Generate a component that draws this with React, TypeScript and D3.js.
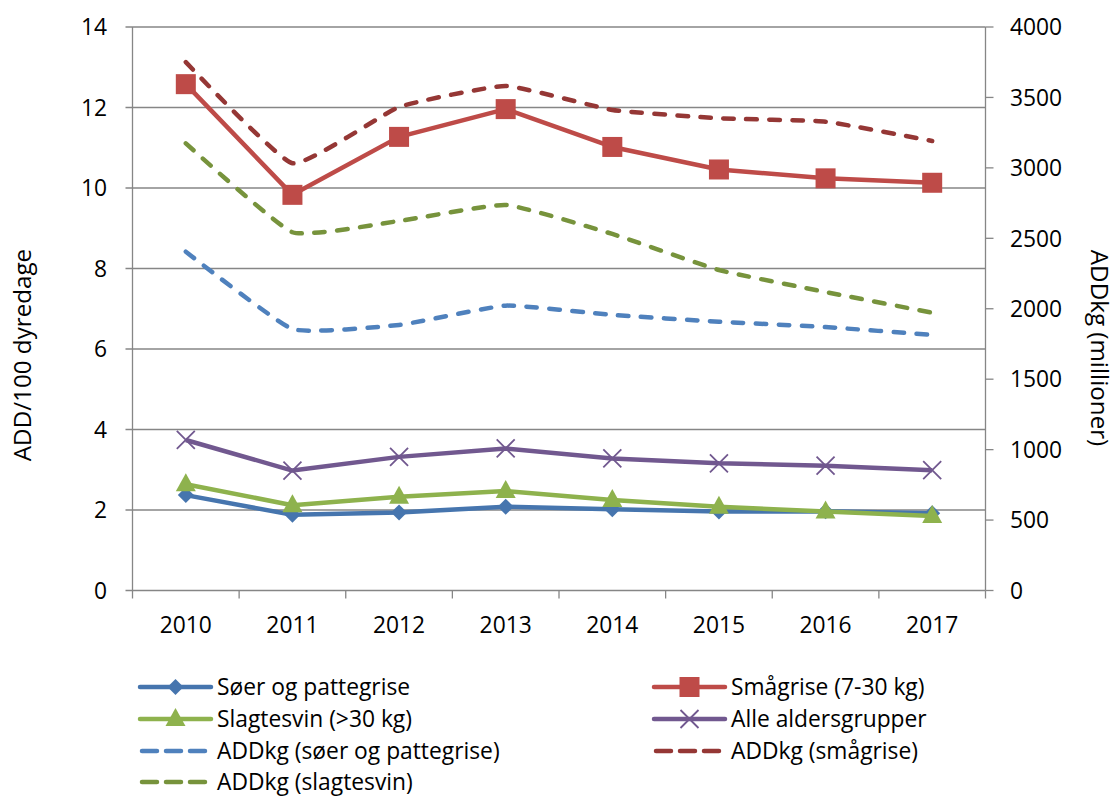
import React from "react";
import * as d3 from "d3";

const years = ["2010", "2011", "2012", "2013", "2014", "2015", "2016", "2017"];
const soer = [2.37, 1.88, 1.94, 2.08, 2.02, 1.96, 1.97, 1.92];
const smagrise = [12.58, 9.83, 11.27, 11.96, 11.02, 10.46, 10.24, 10.13];
const slagtesvin = [2.64, 2.12, 2.33, 2.47, 2.25, 2.08, 1.96, 1.85];
const alle = [3.74, 2.98, 3.32, 3.53, 3.28, 3.16, 3.1, 2.99];
const addkgSoer = [2405, 1856, 1885, 2022, 1956, 1908, 1870, 1814];
const addkgSmagrise = [3751, 3033, 3432, 3581, 3411, 3352, 3328, 3191];
const addkgSlagtesvin = [3174, 2543, 2623, 2737, 2531, 2275, 2119, 1972];
const leftTicks = [0, 2, 4, 6, 8, 10, 12, 14];
const rightTicks = [0, 500, 1000, 1500, 2000, 2500, 3000, 3500, 4000];

const W = 1118, H = 797;
const L = 132.5, R = 985.5, T = 27, B = 590.5;
const FONT = "'Open Sans', Lato, sans-serif";
const FS = 22.8;
const FT = 24.2;

type S = { name: string; values: number[]; color: string; axis: "l" | "r"; dashed: boolean; marker: string };

const series: S[] = [
  { name: "Søer og pattegrise", values: soer, color: "#4675AE", axis: "l", dashed: false, marker: "diamond" },
  { name: "Smågrise (7-30 kg)", values: smagrise, color: "#BE4B48", axis: "l", dashed: false, marker: "square" },
  { name: "Slagtesvin (>30 kg)", values: slagtesvin, color: "#8EB24D", axis: "l", dashed: false, marker: "triangle" },
  { name: "Alle aldersgrupper", values: alle, color: "#71588F", axis: "l", dashed: false, marker: "x" },
  { name: "ADDkg (søer og pattegrise)", values: addkgSoer, color: "#4F81BD", axis: "r", dashed: true, marker: "none" },
  { name: "ADDkg (smågrise)", values: addkgSmagrise, color: "#953735", axis: "r", dashed: true, marker: "none" },
  { name: "ADDkg (slagtesvin)", values: addkgSlagtesvin, color: "#77933C", axis: "r", dashed: true, marker: "none" },
];

const drawOrder = [4, 5, 6, 0, 2, 3, 1];

function Marker({ type, x, y, color }: { type: string; x: number; y: number; color: string }) {
  if (type === "square") return <rect x={x - 10} y={y - 10} width={20} height={20} fill={color} />;
  if (type === "diamond") return <path d={`M${x},${y - 8}L${x + 8},${y}L${x},${y + 8}L${x - 8},${y}Z`} fill={color} />;
  if (type === "triangle") return <path d={`M${x},${y - 11}L${x + 10},${y + 7}L${x - 10},${y + 7}Z`} fill={color} />;
  if (type === "x")
    return (
      <path d={`M${x - 9},${y - 9}L${x + 9},${y + 9}M${x - 9},${y + 9}L${x + 9},${y - 9}`} stroke={color} strokeWidth={1.8} />
    );
  return null;
}

export default function App() {
  const x = d3.scaleBand<string>().domain(years).range([L, R]);
  const yL = d3.scaleLinear().domain([0, 14]).range([B, T]);
  const yR = d3.scaleLinear().domain([0, 4000]).range([B, T]);
  const cx = (i: number) => (x(years[i]) as number) + x.bandwidth() / 2;

  const legendPos = [
    [140, 687], [654, 687],
    [140, 719], [654, 719],
    [140, 751], [654, 751],
    [140, 782],
  ];

  return (
    <svg width={W} height={H} style={{ display: "block", position: "absolute", left: 0, top: 0 }} fontFamily={FONT}>
      <rect width={W} height={H} fill="#fff" />
      {leftTicks.map((t) => (
        <line key={"g" + t} x1={L - 7} x2={R} y1={yL(t)} y2={yL(t)} stroke="#868686" strokeWidth={1.3} />
      ))}
      <line x1={L} x2={L} y1={T} y2={B} stroke="#868686" strokeWidth={1.3} />
      <line x1={R} x2={R} y1={T} y2={B} stroke="#868686" strokeWidth={1.3} />
      {rightTicks.map((t) => (
        <line key={"rt" + t} x1={R} x2={R + 8} y1={yR(t)} y2={yR(t)} stroke="#868686" strokeWidth={1.3} />
      ))}
      {years.map((yr) => (
        <line key={"bt" + yr} x1={x(yr)} x2={x(yr)} y1={B} y2={B + 8} stroke="#868686" strokeWidth={1.3} />
      ))}
      <line x1={R} x2={R} y1={B} y2={B + 8} stroke="#868686" strokeWidth={1.3} />
      {leftTicks.map((t) => (
        <text key={"lt" + t} x={107} y={yL(t)} dy="0.36em" textAnchor="end" fontSize={FS} fill="#000">
          {t}
        </text>
      ))}
      {rightTicks.map((t) => (
        <text key={"rl" + t} x={1010} y={yR(t)} dy="0.36em" textAnchor="start" fontSize={FS} fill="#000">
          {t}
        </text>
      ))}
      {years.map((yr, i) => (
        <text key={"yl" + yr} x={cx(i)} y={625} dy="0.36em" textAnchor="middle" fontSize={FS} fill="#000">
          {yr}
        </text>
      ))}
      <text transform="translate(22,355) rotate(-90)" textAnchor="middle" dy="0.36em" fontSize={FT} fill="#000">
        ADD/100 dyredage
      </text>
      <text transform="translate(1091,348) rotate(90)" textAnchor="middle" fontSize={FT} fill="#000">
        ADDkg (millioner)
      </text>
      {drawOrder.map((si) => {
        const s = series[si];
        const sc = s.axis === "l" ? yL : yR;
        const line = d3
          .line<number>()
          .x((_, i) => cx(i))
          .y((v) => sc(v))
          .curve(s.dashed ? d3.curveCardinal.tension(0.6) : d3.curveLinear);
        return (
          <g key={s.name}>
            <path
              d={line(s.values) || ""}
              fill="none"
              stroke={s.color}
              strokeWidth={4.5}
              strokeLinecap={s.dashed ? "round" : "butt"}
              strokeLinejoin="round"
              strokeDasharray={s.dashed ? "10.5 12.5" : undefined}
            />
            {s.values.map((v, i) => (
              <Marker key={i} type={s.marker} x={cx(i)} y={sc(v)} color={s.color} />
            ))}
          </g>
        );
      })}
      {series.map((s, i) => {
        const [lx, ly] = legendPos[i];
        return (
          <g key={"lg" + i}>
            {s.dashed ? (
              <line x1={lx + 2} x2={lx + 66} y1={ly} y2={ly} stroke={s.color} strokeWidth={4.5} strokeLinecap="round" strokeDasharray="15 9" />
            ) : (
              <line x1={lx} x2={lx + 71} y1={ly} y2={ly} stroke={s.color} strokeWidth={4.5} strokeLinecap="round" />
            )}
            <Marker type={s.marker} x={lx + 35.5} y={ly} color={s.color} />
            <text x={lx + 77} y={ly} dy="0.36em" fontSize={FS} fill="#000">
              {s.name}
            </text>
          </g>
        );
      })}
    </svg>
  );
}
